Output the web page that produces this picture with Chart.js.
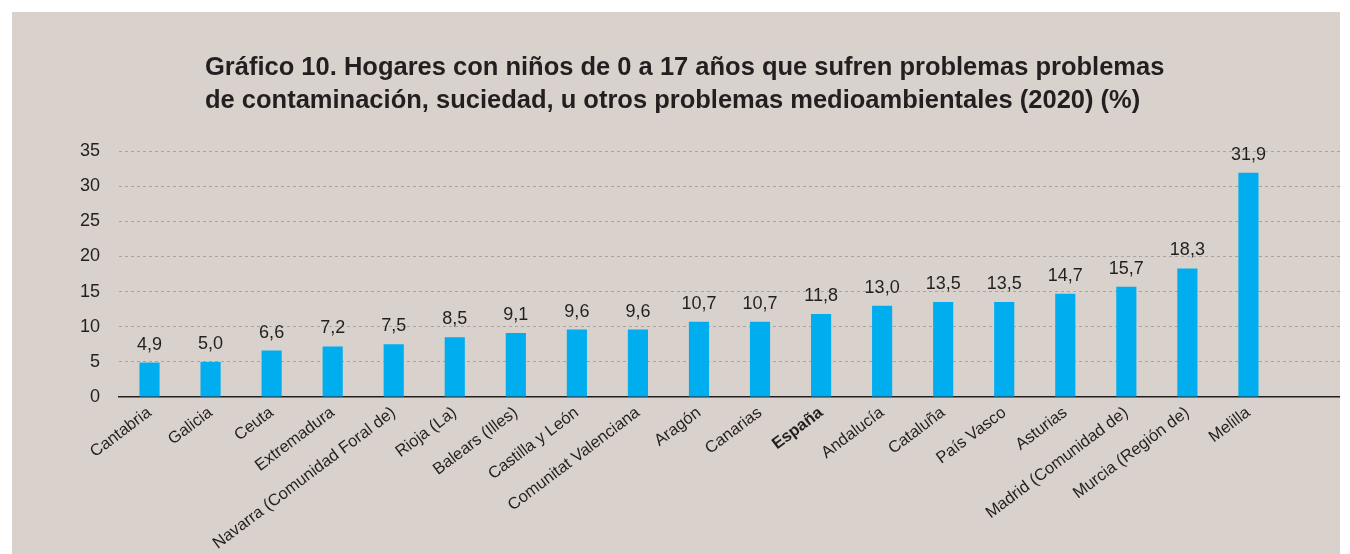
<!DOCTYPE html>
<html>
<head>
<meta charset="utf-8">
<script src="https://cdn.jsdelivr.net/npm/chart.js@4"></script>
<style>
  body { margin: 0; background: #ffffff; }
  #panel { position: absolute; left: 12px; top: 12px; width: 1328px; height: 542px; background: #d9d1cb; }
</style>
</head>
<body>
<div id="panel"><canvas id="barChart" width="1328" height="542"></canvas></div>
<script>
// Data
const categories = ['Cantabria', 'Galicia', 'Ceuta', 'Extremadura', 'Navarra (Comunidad Foral de)',
  'Rioja (La)', 'Balears (Illes)', 'Castilla y León', 'Comunitat Valenciana', 'Aragón', 'Canarias',
  'España', 'Andalucía', 'Cataluña', 'País Vasco', 'Asturias', 'Madrid (Comunidad de)',
  'Murcia (Región de)', 'Melilla'];
const values = [4.9, 5.0, 6.6, 7.2, 7.5, 8.5, 9.1, 9.6, 9.6, 10.7, 10.7, 11.8, 13.0, 13.5, 13.5, 14.7, 15.7, 18.3, 31.9];
const yTicks = [0, 5, 10, 15, 20, 25, 30, 35];
const titleLines = ['Gráfico 10. Hogares con niños de 0 a 17 años que sufren problemas problemas',
  'de contaminación, suciedad, u otros problemas medioambientales (2020) (%)'];

const FONT = "'Liberation Sans', Arial, Helvetica, sans-serif";
const TEXT = '#231f20';

// two-line title, left aligned like the original
const leftTitle = {
  id: 'leftTitle',
  afterDraw(chart) {
    const ctx = chart.ctx;
    ctx.save();
    ctx.font = 'bold 25.5px ' + FONT;
    ctx.fillStyle = TEXT;
    ctx.textAlign = 'left';
    ctx.textBaseline = 'alphabetic';
    titleLines.forEach((line, i) => ctx.fillText(line, 193, 63 + i * 33));
    ctx.restore();
  }
};

// value labels above bars
const valueLabels = {
  id: 'valueLabels',
  afterDatasetsDraw(chart) {
    const ctx = chart.ctx;
    const meta = chart.getDatasetMeta(0);
    ctx.save();
    ctx.font = '18px ' + FONT;
    ctx.fillStyle = TEXT;
    ctx.textAlign = 'center';
    ctx.textBaseline = 'alphabetic';
    meta.data.forEach((bar, i) => {
      if (values[i] == null) return;
      ctx.fillText(values[i].toFixed(1).replace('.', ','), bar.x, bar.y - 13);
    });
    ctx.restore();
  }
};

const ctx = document.getElementById('barChart').getContext('2d');
new Chart(ctx, {
  type: 'bar',
  data: {
    labels: [...categories, ''],
    datasets: [{
      data: values,
      backgroundColor: '#00aeef',
      borderWidth: 0,
      barPercentage: 0.33,
      categoryPercentage: 1
    }]
  },
  options: {
    responsive: false,
    animation: false,
    layout: { padding: { top: 139, left: 0, right: 0, bottom: 0 } },
    plugins: {
      legend: { display: false },
      tooltip: { enabled: false },
      title: { display: false }
    },
    scales: {
      x: {
        grid: { display: false, drawTicks: false },
        border: { display: true, color: TEXT, width: 1.5 },
        afterFit(scale) { scale.height = 157; },
        ticks: {
          autoSkip: false,
          minRotation: 37,
          maxRotation: 37,
          padding: 6,
          color: TEXT,
          font: (c) => ({
            family: FONT,
            size: 16.5,
            weight: categories[c.index] === 'España' ? 'bold' : 'normal'
          })
        }
      },
      y: {
        min: 0,
        max: 35,
        afterFit(scale) { scale.width = 107; },
        afterBuildTicks(scale) { scale.ticks = yTicks.map(v => ({ value: v })); },
        border: { display: false, dash: [3, 3] },
        grid: {
          drawTicks: false,
          color: (c) => c.tick && c.tick.value === 0 ? 'rgba(0,0,0,0)' : '#a9a4a0',
          lineWidth: 1
        },
        ticks: {
          padding: 19,
          color: TEXT,
          font: { family: FONT, size: 18 }
        }
      }
    }
  },
  plugins: [valueLabels, leftTitle]
});
</script>
</body>
</html>
